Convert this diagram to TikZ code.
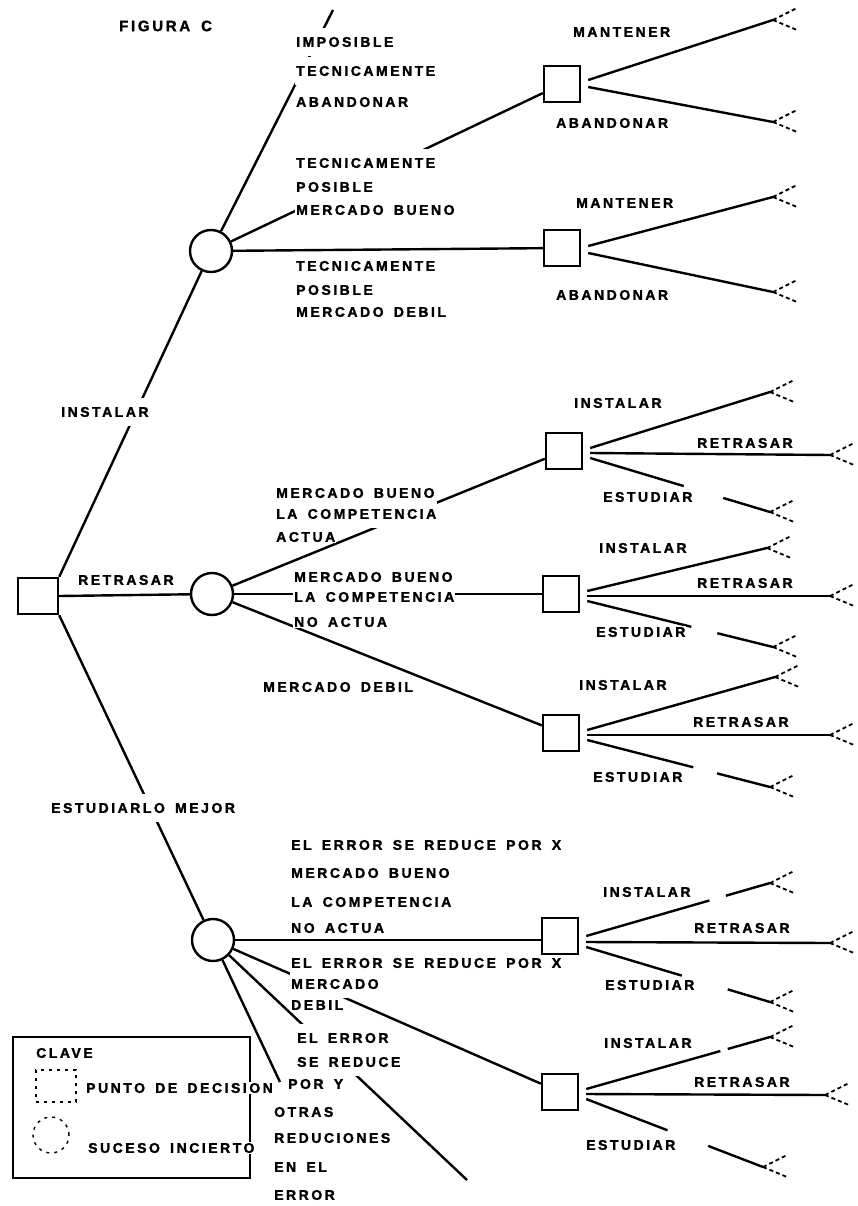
\documentclass[tikz,border=0pt]{standalone}
\usepackage{fontspec}
\newfontfamily\lbf[LetterSpace=18, WordSpace=1.6, FakeBold=1.6]{Liberation Sans Bold}
\usetikzlibrary{calc}

\begin{document}
\begin{tikzpicture}[x=1pt,y=-1pt,
  edge/.style={line width=2.4pt},
  dec/.style={draw, line width=2.4pt, minimum size=36pt, inner sep=0pt},
  chance/.style={draw, circle, line width=2.4pt, minimum size=42pt, inner sep=0pt},
  lbl/.style={anchor=west, fill=white, inner sep=1pt, font=\lbf\fontsize{14}{16}\selectfont},
  blk/.style={lbl, inner ysep=9pt},
  tip/.style={line width=1.8pt, dash pattern=on 4pt off 3pt},
  endfork/.pic={\draw[tip] (0,0) -- (24,-12); \draw[tip] (0,0) -- (24,10);}
]
\useasboundingbox (0,0) rectangle (857,1206);

% decision points (squares) and chance events (circles)
\node[dec, minimum width=40pt] (root) at (38,596) {};
\node[chance] (c1) at (211,251) {};
\node[chance] (c2) at (212,594) {};
\node[chance] (c3) at (213,940) {};
\node[dec] (A) at (562,84) {};
\node[dec] (B) at (562,248) {};
\node[dec] (C) at (564,451) {};
\node[dec] (D) at (561,594) {};
\node[dec] (E) at (561,733) {};
\node[dec] (F) at (560,936) {};
\node[dec] (G) at (560,1092) {};

% free ends of the branches
\coordinate (c1top) at (333,10);
\coordinate (c3y) at (467,1180);
\coordinate (c3o) at (280,1082);
\coordinate (tA1) at (773,20);   \coordinate (tA2) at (773,122);
\coordinate (tB1) at (773,197);  \coordinate (tB2) at (773,292);
\coordinate (tC1) at (770,392);  \coordinate (tC2) at (830,455);  \coordinate (tC3) at (770,512);
\coordinate (tD1) at (767,548);  \coordinate (tD2) at (830,596);  \coordinate (tD3) at (773,647);
\coordinate (tE1) at (775,677);  \coordinate (tE2) at (830,735);  \coordinate (tE3) at (770,787);
\coordinate (tF1) at (770,883);  \coordinate (tF2) at (830,943);  \coordinate (tF3) at (770,1002);
\coordinate (tG1) at (770,1037); \coordinate (tG2) at (825,1095); \coordinate (tG3) at (763,1167);

% starting points of the alternatives leaving each square
\coordinate (A-u) at ([xshift=7pt,yshift=4pt]A.east);
\coordinate (A-d) at ([xshift=7pt,yshift=-3pt]A.east);
\coordinate (B-u) at ([xshift=7pt,yshift=2pt]B.east);
\coordinate (B-d) at ([xshift=7pt,yshift=-5pt]B.east);
\foreach \s in {C,D,E,G}{
  \coordinate (\s-i) at ([xshift=7pt,yshift=3pt]\s.east);
  \coordinate (\s-r) at ([xshift=7pt,yshift=-2pt]\s.east);
  \coordinate (\s-e) at ([xshift=7pt,yshift=-7pt]\s.east);
}
\coordinate (F-i) at ([xshift=7pt,yshift=0pt]F.east);
\coordinate (F-r) at ([xshift=7pt,yshift=-6pt]F.east);
\coordinate (F-e) at ([xshift=7pt,yshift=-11pt]F.east);

% first level
\draw[edge] (root.north east) -- (c1);
\draw[edge] (root.east) -- (c2);
\draw[edge] (root.south east) -- (c3);

% after INSTALAR
\draw[edge] (c1) -- (c1top);
\draw[edge] (c1) -- (A);
\draw[edge] (c1) -- (B);
\draw[edge] (A-u) -- (tA1);
\draw[edge] (A-d) -- (tA2);
\draw[edge] (B-u) -- (tB1);
\draw[edge] (B-d) -- (tB2);

% after RETRASAR
\draw[edge] (c2) -- (C);
\draw[edge] (c2) -- (D);
\draw[edge] (c2) -- (E);

% after ESTUDIARLO MEJOR
\draw[edge] (c3) -- (c3 -| F.west);
\draw[edge] (c3) -- (G);
\draw[edge] (c3) -- (c3y);
\draw[edge] (c3) -- (c3o);

% the three alternatives of each later decision
\draw[edge] (C-i) -- (tC1);
\draw[edge] (C-r) -- (tC2);
\draw[edge] (C-e) -- ($(C-e)!0.52!(tC3)$);
\draw[edge] ($(C-e)!0.74!(tC3)$) -- (tC3);

\draw[edge] (D-i) -- (tD1);
\draw[edge] (D-r) -- (tD2);
\draw[edge] (D-e) -- ($(D-e)!0.56!(tD3)$);
\draw[edge] ($(D-e)!0.70!(tD3)$) -- (tD3);

\draw[edge] (E-i) -- (tE1);
\draw[edge] (E-r) -- (tE2);
\draw[edge] (E-e) -- ($(E-e)!0.58!(tE3)$);
\draw[edge] ($(E-e)!0.71!(tE3)$) -- (tE3);

\draw[edge] (F-i) -- ($(F-i)!0.67!(tF1)$);
\draw[edge] ($(F-i)!0.76!(tF1)$) -- (tF1);
\draw[edge] (F-r) -- (tF2);
\draw[edge] (F-e) -- ($(F-e)!0.52!(tF3)$);
\draw[edge] ($(F-e)!0.77!(tF3)$) -- (tF3);

\draw[edge] (G-i) -- ($(G-i)!0.73!(tG1)$);
\draw[edge] ($(G-i)!0.77!(tG1)$) -- (tG1);
\draw[edge] (G-r) -- (tG2);
\draw[edge] (G-e) -- ($(G-e)!0.46!(tG3)$);
\draw[edge] ($(G-e)!0.69!(tG3)$) -- (tG3);

% dashed forks where the tree goes on
\foreach \t in {tA1,tA2,tB1,tB2,tC1,tC2,tC3,tD1,tD2,tD3,tE1,tE2,tE3,tF1,tF2,tF3,tG1,tG2,tG3}
  \pic at (\t) {endfork};

% key
\node[draw, line width=2.4pt, minimum width=237pt, minimum height=141pt, inner sep=0pt] (key) at (131.5,1107.5) {};
\node[draw, line width=1.4pt, dash pattern=on 3pt off 5pt, minimum width=40pt, minimum height=32pt, inner sep=0pt] (keydec) at (56,1086) {};
\node[draw, circle, line width=1.4pt, dash pattern=on 3pt off 5pt, minimum size=36pt, inner sep=0pt] (keychance) at (51,1135) {};

% labels
\node[lbl, font=\lbf\fontsize{15}{17}\selectfont] (title) at (118,26) {FIGURA C};

\node[blk] (l1) at (295,42) {IMPOSIBLE};
\node[blk] (l2) at (295,71) {TECNICAMENTE};
\node[blk] (l3) at (295,102) {ABANDONAR};
\node[blk] (l4) at (295,163) {TECNICAMENTE};
\node[blk] (l5) at (295,187) {POSIBLE};
\node[blk] (l6) at (295,210) {MERCADO BUENO};
\node[lbl] (l7) at (295,266) {TECNICAMENTE};
\node[lbl] (l8) at (295,290) {POSIBLE};
\node[lbl] (l9) at (295,312) {MERCADO DEBIL};

\node[lbl] (mA) at (572,32) {MANTENER};
\node[lbl] (aA) at (555,123) {ABANDONAR};
\node[lbl] (mB) at (575,203) {MANTENER};
\node[lbl] (aB) at (555,295) {ABANDONAR};

\node[blk] (inst) at (60,412) {INSTALAR};
\node[lbl] (retr) at (77,580) {RETRASAR};
\node[blk] (estu) at (50,808) {ESTUDIARLO MEJOR};

\node[blk] (r1) at (275,493) {MERCADO BUENO};
\node[blk] (r2) at (275,514) {LA COMPETENCIA};
\node[lbl] (r3) at (275,537) {ACTUA};
\node[lbl] (r4) at (293,577) {MERCADO BUENO};
\node[blk] (r5) at (293,597) {LA COMPETENCIA};
\node[lbl] (r6) at (293,622) {NO ACTUA};
\node[lbl] (r7) at (262,687) {MERCADO DEBIL};

\node[lbl] (iC) at (573,403) {INSTALAR};
\node[lbl] (rC) at (696,443) {RETRASAR};
\node[lbl] (eC) at (602,497) {ESTUDIAR};
\node[lbl] (iD) at (598,548) {INSTALAR};
\node[lbl] (rD) at (696,583) {RETRASAR};
\node[lbl] (eD) at (595,632) {ESTUDIAR};
\node[lbl] (iE) at (578,685) {INSTALAR};
\node[lbl] (rE) at (692,722) {RETRASAR};
\node[lbl] (eE) at (592,777) {ESTUDIAR};

\node[lbl] (s1) at (290,845) {EL ERROR SE REDUCE POR X};
\node[lbl] (s2) at (290,873) {MERCADO BUENO};
\node[lbl] (s3) at (290,902) {LA COMPETENCIA};
\node[lbl] (s4) at (290,928) {NO ACTUA};
\node[lbl] (s5) at (290,963) {EL ERROR SE REDUCE POR X};
\node[blk] (s6) at (290,984) {MERCADO};
\node[lbl] (s7) at (290,1005) {DEBIL};
\node[blk] (s8) at (296,1038) {EL ERROR};
\node[blk] (s9) at (296,1062) {SE REDUCE};
\node[lbl] (s10) at (287,1084) {POR Y};
\node[lbl] (s11) at (273,1112) {OTRAS};
\node[lbl] (s12) at (273,1138) {REDUCIONES};
\node[lbl] (s13) at (273,1167) {EN EL};
\node[lbl] (s14) at (273,1195) {ERROR};

\node[lbl] (iF) at (602,892) {INSTALAR};
\node[lbl] (rF) at (693,928) {RETRASAR};
\node[lbl] (eF) at (604,985) {ESTUDIAR};
\node[lbl] (iG) at (603,1043) {INSTALAR};
\node[lbl] (rG) at (693,1082) {RETRASAR};
\node[lbl] (eG) at (585,1145) {ESTUDIAR};

\node[lbl] (k1) at (35,1053) {CLAVE};
\node[lbl] (k2) at (85,1088) {PUNTO DE DECISION};
\node[lbl] (k3) at (87,1148) {SUCESO INCIERTO};
\end{tikzpicture}
\end{document}
